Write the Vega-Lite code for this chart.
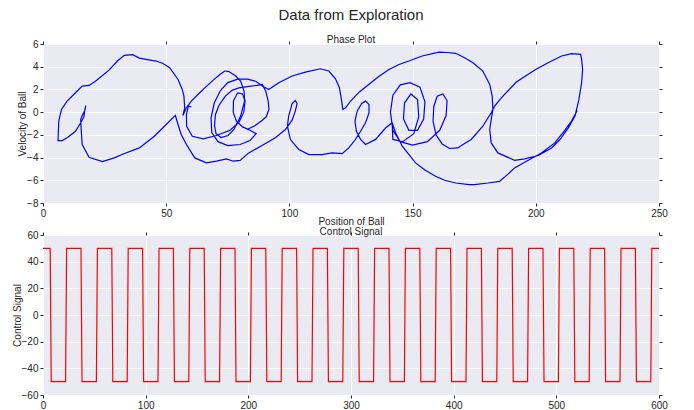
{
"$schema":"https://vega.github.io/schema/vega-lite/v6.json",
"padding":{"left":12,"top":8,"right":10,"bottom":5},
"title":{"text":"Data from Exploration","fontSize":15,"fontWeight":"normal","font":"Liberation Sans","color":"#262626","offset":12,"anchor":"middle"},
"spacing":32,
"bounds":"flush",
"config":{
 "view":{"fill":"#EAEAF2","stroke":null},
 "axis":{"domain":false,"grid":true,"gridColor":"#ffffff","gridWidth":1,"tickColor":"#262626","tickSize":3,"labelFont":"Liberation Sans","labelFontSize":10,"labelColor":"#262626","labelPadding":2,"labelFlush":false,"titleFont":"Liberation Sans","titleFontSize":10,"titleFontWeight":"normal","titleColor":"#262626"},
 "title":{"font":"Liberation Sans","fontSize":10,"fontWeight":"normal","color":"#262626","frame":"group"}
},
"vconcat":[
{
 "title":{"text":"Phase Plot","offset":-6},
 "width":616,"height":159,
 "data":{"values":[
{"s":"C","i":0,"x":73.8,"v":3.62},{"s":"C","i":1,"x":75.5,"v":3.57},{"s":"C","i":2,"x":78.2,"v":3.18},{"s":"C","i":3,"x":80.2,"v":2.74},{"s":"C","i":4,"x":81.6,"v":1.85},{"s":"C","i":5,"x":81.8,"v":0.97},{"s":"C","i":6,"x":80.2,"v":-0.35},{"s":"C","i":7,"x":77.5,"v":-1.53},{"s":"C","i":8,"x":75.1,"v":-2.06},{"s":"C","i":9,"x":72.2,"v":-2.23},{"s":"C","i":10,"x":70.2,"v":-1.88},{"s":"C","i":11,"x":69.6,"v":-1.17},{"s":"C","i":12,"x":70.0,"v":-0.2},{"s":"C","i":13,"x":71.4,"v":0.59},{"s":"C","i":14,"x":73.9,"v":1.39},{"s":"C","i":15,"x":76.7,"v":1.92},{"s":"C","i":16,"x":79.5,"v":2.14},{"s":"C","i":17,"x":83.6,"v":2.27},{"s":"C","i":18,"x":86.9,"v":2.36},{"s":"C","i":19,"x":89.0,"v":2.44},{"s":"C","i":20,"x":90.4,"v":1.85},{"s":"C","i":21,"x":91.4,"v":0.97},{"s":"C","i":22,"x":91.7,"v":0.24},{"s":"C","i":23,"x":90.6,"v":-0.41},{"s":"C","i":24,"x":89.0,"v":-0.71},{"s":"C","i":25,"x":86,"v":-1.2},{"s":"C","i":26,"x":83,"v":-1.5},
{"s":"A","i":0,"x":73.8,"v":3.62},{"s":"A","i":1,"x":71.8,"v":3.32},{"s":"A","i":2,"x":69.1,"v":2.82},{"s":"A","i":3,"x":66,"v":2.2},{"s":"A","i":4,"x":63.6,"v":1.71},{"s":"A","i":5,"x":60.2,"v":0.97},{"s":"A","i":6,"x":58.2,"v":0.38},{"s":"A","i":7,"x":56.8,"v":-0.29},{"s":"A","i":8,"x":57.5,"v":0.38},{"s":"A","i":9,"x":57.2,"v":1.41},{"s":"A","i":10,"x":56.5,"v":2.0},{"s":"A","i":11,"x":54.8,"v":2.88},{"s":"A","i":12,"x":51.4,"v":3.91},{"s":"A","i":13,"x":48.5,"v":4.3},{"s":"A","i":14,"x":45.9,"v":4.5},{"s":"A","i":15,"x":41.8,"v":4.65},{"s":"A","i":16,"x":39.1,"v":4.76},{"s":"A","i":17,"x":36.4,"v":5.06},{"s":"A","i":18,"x":33.0,"v":5.0},{"s":"A","i":19,"x":30.2,"v":4.5},{"s":"A","i":20,"x":26.8,"v":3.7},{"s":"A","i":21,"x":21.4,"v":2.74},{"s":"A","i":22,"x":18.7,"v":2.35},{"s":"A","i":23,"x":15.9,"v":2.29},{"s":"A","i":24,"x":13.2,"v":1.71},{"s":"A","i":25,"x":9.8,"v":0.97},{"s":"A","i":26,"x":7.5,"v":0.24},{"s":"A","i":27,"x":6.4,"v":-0.79},{"s":"A","i":28,"x":6.1,"v":-2.5},{"s":"A","i":29,"x":7.8,"v":-2.5},{"s":"A","i":30,"x":9.8,"v":-2.26},{"s":"A","i":31,"x":13.2,"v":-1.68},{"s":"A","i":32,"x":15.3,"v":-0.94},{"s":"A","i":33,"x":16.6,"v":-0.41},{"s":"A","i":34,"x":17.0,"v":0.24},{"s":"A","i":35,"x":17.4,"v":0.58},{"s":"A","i":36,"x":16.9,"v":0.09},{"s":"A","i":37,"x":15.9,"v":-0.29},{"s":"A","i":38,"x":15.3,"v":-0.65},{"s":"A","i":39,"x":15.5,"v":-1.53},{"s":"A","i":40,"x":15.9,"v":-2.85},{"s":"A","i":41,"x":18.7,"v":-3.97},{"s":"A","i":42,"x":24.1,"v":-4.35},{"s":"A","i":43,"x":28.9,"v":-4.03},{"s":"A","i":44,"x":32.3,"v":-3.71},{"s":"A","i":45,"x":39.1,"v":-3.15},{"s":"A","i":46,"x":45.2,"v":-2.12},{"s":"A","i":47,"x":50.0,"v":-1.09},{"s":"A","i":48,"x":53.7,"v":-0.29},{"s":"A","i":49,"x":54.8,"v":-1.09},{"s":"A","i":50,"x":56.1,"v":-1.97},{"s":"A","i":51,"x":58.2,"v":-2.85},{"s":"A","i":52,"x":61.6,"v":-4.03},{"s":"A","i":53,"x":66.3,"v":-4.47},{"s":"A","i":54,"x":70.4,"v":-4.32},{"s":"A","i":55,"x":74.5,"v":-4.12},{"s":"A","i":56,"x":77.2,"v":-4.32},{"s":"A","i":57,"x":80,"v":-4.25},{"s":"A","i":58,"x":83.5,"v":-3.59},{"s":"A","i":59,"x":88.9,"v":-2.94},{"s":"A","i":60,"x":94.3,"v":-2.26},{"s":"A","i":61,"x":98.4,"v":-1.53},{"s":"A","i":62,"x":101.1,"v":-0.71},{"s":"A","i":63,"x":102.4,"v":0.09},{"s":"A","i":64,"x":103.1,"v":0.76},{"s":"A","i":65,"x":102.4,"v":1.03},{"s":"A","i":66,"x":101.1,"v":0.76},{"s":"A","i":67,"x":99.7,"v":-0.35},{"s":"A","i":68,"x":99.2,"v":-1.24},{"s":"A","i":69,"x":100.4,"v":-2.41},{"s":"A","i":70,"x":103.8,"v":-3.29},{"s":"A","i":71,"x":107.9,"v":-3.74},{"s":"A","i":72,"x":113.3,"v":-3.74},{"s":"A","i":73,"x":117.3,"v":-3.59},{"s":"A","i":74,"x":121.4,"v":-3.65},{"s":"A","i":75,"x":124.1,"v":-3.15},{"s":"A","i":76,"x":126.8,"v":-2.41},{"s":"A","i":77,"x":128.9,"v":-1.68},{"s":"A","i":78,"x":130.9,"v":-0.94},{"s":"A","i":79,"x":132.3,"v":-0.06},{"s":"A","i":80,"x":132.3,"v":0.68},{"s":"A","i":81,"x":130.9,"v":0.97},{"s":"A","i":82,"x":129.3,"v":0.76},{"s":"A","i":83,"x":127.5,"v":0.09},{"s":"A","i":84,"x":126.6,"v":-0.79},{"s":"A","i":85,"x":127.2,"v":-1.68},{"s":"A","i":86,"x":128.9,"v":-2.41},{"s":"A","i":87,"x":130.9,"v":-2.85},{"s":"A","i":88,"x":135,"v":-2.4},{"s":"A","i":89,"x":139,"v":-1.4},{"s":"A","i":90,"x":141.7,"v":-0.94},
{"s":"B","i":0,"x":60.2,"v":0.47},{"s":"B","i":1,"x":59.0,"v":0.53},{"s":"B","i":2,"x":58.2,"v":-0.21},{"s":"B","i":3,"x":58.3,"v":-1.24},{"s":"B","i":4,"x":60.6,"v":-2.12},{"s":"B","i":5,"x":65.0,"v":-2.35},{"s":"B","i":6,"x":70.4,"v":-2.06},{"s":"B","i":7,"x":75.9,"v":-1.59},{"s":"B","i":8,"x":79.5,"v":-0.9},{"s":"B","i":9,"x":81.5,"v":0},{"s":"B","i":10,"x":82,"v":1.0},{"s":"B","i":11,"x":81,"v":1.6},{"s":"B","i":12,"x":79,"v":1.7},{"s":"B","i":13,"x":77.3,"v":1.0},{"s":"B","i":14,"x":77.2,"v":0},{"s":"B","i":15,"x":78.5,"v":-0.8},{"s":"B","i":16,"x":81,"v":-1.3},{"s":"B","i":17,"x":84,"v":-1.6},{"s":"B","i":18,"x":86.5,"v":-1.9},{"s":"B","i":19,"x":84,"v":-2.5},{"s":"B","i":20,"x":80,"v":-2.85},{"s":"B","i":21,"x":75,"v":-2.95},{"s":"B","i":22,"x":71,"v":-2.6},{"s":"B","i":23,"x":68.5,"v":-1.8},{"s":"B","i":24,"x":68.2,"v":-0.5},{"s":"B","i":25,"x":69.5,"v":0.8},{"s":"B","i":26,"x":72,"v":1.9},{"s":"B","i":27,"x":75,"v":2.6},{"s":"B","i":28,"x":79,"v":2.9},{"s":"B","i":29,"x":83,"v":2.9},{"s":"B","i":30,"x":86.5,"v":2.7},{"s":"B","i":31,"x":89,"v":2.3},{"s":"B","i":32,"x":91.6,"v":2.0},{"s":"B","i":37,"x":95.7,"v":2.59},{"s":"B","i":38,"x":101.1,"v":3.18},{"s":"B","i":39,"x":106.5,"v":3.53},{"s":"B","i":40,"x":112.6,"v":3.82},{"s":"B","i":41,"x":116.0,"v":3.62},{"s":"B","i":42,"x":118.7,"v":2.94},{"s":"B","i":43,"x":120.3,"v":2.15},{"s":"B","i":44,"x":121.1,"v":1.12},{"s":"B","i":45,"x":121.7,"v":0.24},{"s":"B","i":46,"x":122.8,"v":0.38},{"s":"B","i":47,"x":124.8,"v":0.97},{"s":"B","i":48,"x":128.5,"v":1.8},{"s":"B","i":49,"x":132.2,"v":2.44},{"s":"B","i":50,"x":136,"v":3.1},{"s":"B","i":51,"x":140.4,"v":3.76},{"s":"B","i":52,"x":144.5,"v":4.2},{"s":"B","i":53,"x":148.5,"v":4.5},{"s":"B","i":54,"x":153.9,"v":4.94},{"s":"B","i":55,"x":160.7,"v":5.29},{"s":"B","i":56,"x":164,"v":5.25},{"s":"B","i":57,"x":167.5,"v":5.18},{"s":"B","i":58,"x":171.1,"v":4.79},{"s":"B","i":59,"x":174.5,"v":4.35},{"s":"B","i":60,"x":178.5,"v":3.62},{"s":"B","i":61,"x":181.3,"v":2.44},{"s":"B","i":62,"x":182.3,"v":1.41},{"s":"B","i":63,"x":182.6,"v":0.24},{"s":"B","i":64,"x":181.9,"v":-0.65},{"s":"B","i":65,"x":181.3,"v":-1.53},{"s":"B","i":66,"x":181.9,"v":-2.71},{"s":"B","i":67,"x":184.6,"v":-3.59},{"s":"B","i":68,"x":191.4,"v":-4.24},{"s":"B","i":69,"x":195.5,"v":-4.12},{"s":"B","i":70,"x":201.0,"v":-3.82},{"s":"B","i":71,"x":206.4,"v":-3.15},{"s":"B","i":72,"x":209.8,"v":-2.41},{"s":"B","i":73,"x":213.2,"v":-1.38},{"s":"B","i":74,"x":215.9,"v":-0.35},{"s":"B","i":75,"x":217.5,"v":1.12},{"s":"B","i":76,"x":218.6,"v":2.59},{"s":"B","i":77,"x":219.0,"v":3.76},{"s":"B","i":78,"x":218.6,"v":4.65},{"s":"B","i":79,"x":218.2,"v":5.09},{"s":"B","i":80,"x":214.5,"v":5.15},{"s":"B","i":81,"x":210.5,"v":4.94},{"s":"B","i":82,"x":205.0,"v":4.35},{"s":"B","i":83,"x":199.6,"v":3.71},{"s":"B","i":84,"x":192.1,"v":2.65},{"s":"B","i":85,"x":186.0,"v":1.26},{"s":"B","i":86,"x":183.3,"v":0.53},{"s":"B","i":87,"x":181.9,"v":-0.06},{"s":"B","i":88,"x":178.5,"v":-1.24},{"s":"B","i":89,"x":173.8,"v":-2.41},{"s":"B","i":90,"x":171.1,"v":-2.76},{"s":"B","i":91,"x":168.3,"v":-3.15},{"s":"B","i":92,"x":165,"v":-3.2},{"s":"B","i":93,"x":162,"v":-2.8},{"s":"B","i":94,"x":159.5,"v":-2.0},{"s":"B","i":95,"x":158.3,"v":-0.8},{"s":"B","i":96,"x":158.6,"v":0.5},{"s":"B","i":97,"x":160,"v":1.4},{"s":"B","i":98,"x":162.3,"v":1.6},{"s":"B","i":99,"x":164,"v":1.0},{"s":"B","i":100,"x":163.6,"v":-0.3},{"s":"B","i":101,"x":161,"v":-1.6},{"s":"B","i":102,"x":156,"v":-2.6},{"s":"B","i":103,"x":150,"v":-2.9},{"s":"B","i":104,"x":145,"v":-2.6},{"s":"B","i":105,"x":142,"v":-1.6},{"s":"B","i":106,"x":141,"v":0},{"s":"B","i":107,"x":142,"v":1.5},{"s":"B","i":108,"x":145,"v":2.4},{"s":"B","i":109,"x":149,"v":2.6},{"s":"B","i":110,"x":153,"v":2.2},{"s":"B","i":111,"x":155,"v":0.9},{"s":"B","i":112,"x":154.5,"v":-0.6},{"s":"B","i":113,"x":152,"v":-1.6},{"s":"B","i":114,"x":148.5,"v":-1.6},{"s":"B","i":115,"x":146.3,"v":-0.6},{"s":"B","i":116,"x":146.7,"v":0.8},{"s":"B","i":117,"x":149.3,"v":1.6},{"s":"B","i":118,"x":152,"v":1.1},{"s":"B","i":119,"x":152.5,"v":-0.4},{"s":"B","i":120,"x":150.5,"v":-1.9},{"s":"B","i":121,"x":146,"v":-2.6},{"s":"B","i":122,"x":142,"v":-2.4},{"s":"B","i":123,"x":141.7,"v":-0.94},{"s":"B","i":124,"x":143.1,"v":-1.82},{"s":"B","i":125,"x":145.8,"v":-3.0},{"s":"B","i":126,"x":151.2,"v":-4.47},{"s":"B","i":127,"x":155,"v":-5.1},{"s":"B","i":128,"x":159.3,"v":-5.65},{"s":"B","i":129,"x":163,"v":-6.0},{"s":"B","i":130,"x":167.5,"v":-6.24},{"s":"B","i":131,"x":172.9,"v":-6.38},{"s":"B","i":132,"x":175.1,"v":-6.38},{"s":"B","i":133,"x":180.6,"v":-6.24},{"s":"B","i":134,"x":185.3,"v":-6.09},{"s":"B","i":135,"x":188.5,"v":-5.5},{"s":"B","i":136,"x":191.4,"v":-4.91},{"s":"B","i":137,"x":195.5,"v":-4.41},{"s":"B","i":138,"x":202.3,"v":-3.59},{"s":"B","i":139,"x":207.7,"v":-2.71},{"s":"B","i":140,"x":211.5,"v":-1.68},{"s":"B","i":141,"x":214.5,"v":-0.79},{"s":"B","i":142,"x":216.8,"v":0.15}
 ]},
 "layer":[
  {
   "mark":{"type":"line","color":"#0000ff","strokeWidth":1.2,"clip":true},
   "encoding":{
    "x":{"field":"x","type":"quantitative","scale":{"domain":[0,250],"nice":false,"zero":false},"axis":{"values":[0,50,100,150,200,250],"title":"Position of Ball","titlePadding":-2}},
    "y":{"field":"v","type":"quantitative","scale":{"domain":[-8,6],"nice":false,"zero":false},"axis":{"values":[-8,-6,-4,-2,0,2,4,6],"title":"Velocity of Ball","titlePadding":-1}},
    "detail":{"field":"s"},
    "order":{"field":"i","type":"quantitative"}
   }
  },
  {
   "mark":{"type":"line","opacity":0},
   "encoding":{
    "x":{"field":"x","type":"quantitative","axis":{"orient":"top","values":[0,50,100,150,200,250],"labels":false,"grid":false,"title":null}},
    "y":{"field":"v","type":"quantitative","axis":{"orient":"right","values":[-8,-6,-4,-2,0,2,4,6],"labels":false,"grid":false,"title":null}},
    "detail":{"field":"s"},
    "order":{"field":"i","type":"quantitative"}
   }
  }
 ],
 "resolve":{"axis":{"x":"independent","y":"independent"}}
},
{
 "title":{"text":"Control Signal","offset":-7},
 "width":616,"height":160,
 "data":{"values":[
{"t":0,"u":50},{"t":7,"u":50},{"t":8,"u":-50},{"t":22,"u":-50},
{"t":23,"u":50},{"t":37,"u":50},{"t":38,"u":-50},{"t":52,"u":-50},
{"t":53,"u":50},{"t":67,"u":50},{"t":68,"u":-50},{"t":82,"u":-50},
{"t":83,"u":50},{"t":97,"u":50},{"t":98,"u":-50},{"t":112,"u":-50},
{"t":113,"u":50},{"t":127,"u":50},{"t":128,"u":-50},{"t":142,"u":-50},
{"t":143,"u":50},{"t":157,"u":50},{"t":158,"u":-50},{"t":172,"u":-50},
{"t":173,"u":50},{"t":187,"u":50},{"t":188,"u":-50},{"t":202,"u":-50},
{"t":203,"u":50},{"t":217,"u":50},{"t":218,"u":-50},{"t":232,"u":-50},
{"t":233,"u":50},{"t":247,"u":50},{"t":248,"u":-50},{"t":262,"u":-50},
{"t":263,"u":50},{"t":277,"u":50},{"t":278,"u":-50},{"t":292,"u":-50},
{"t":293,"u":50},{"t":307,"u":50},{"t":308,"u":-50},{"t":322,"u":-50},
{"t":323,"u":50},{"t":337,"u":50},{"t":338,"u":-50},{"t":352,"u":-50},
{"t":353,"u":50},{"t":367,"u":50},{"t":368,"u":-50},{"t":382,"u":-50},
{"t":383,"u":50},{"t":397,"u":50},{"t":398,"u":-50},{"t":412,"u":-50},
{"t":413,"u":50},{"t":427,"u":50},{"t":428,"u":-50},{"t":442,"u":-50},
{"t":443,"u":50},{"t":457,"u":50},{"t":458,"u":-50},{"t":472,"u":-50},
{"t":473,"u":50},{"t":487,"u":50},{"t":488,"u":-50},{"t":502,"u":-50},
{"t":503,"u":50},{"t":517,"u":50},{"t":518,"u":-50},{"t":532,"u":-50},
{"t":533,"u":50},{"t":547,"u":50},{"t":548,"u":-50},{"t":562,"u":-50},
{"t":563,"u":50},{"t":577,"u":50},{"t":578,"u":-50},{"t":592,"u":-50},
{"t":593,"u":50},{"t":600,"u":50}
 ]},
 "layer":[
  {
   "mark":{"type":"line","color":"#ff0000","strokeWidth":1.2,"clip":true},
   "encoding":{
    "x":{"field":"t","type":"quantitative","scale":{"domain":[0,600],"nice":false,"zero":false},"axis":{"values":[0,100,200,300,400,500,600],"title":null}},
    "y":{"field":"u","type":"quantitative","scale":{"domain":[-60,60],"nice":false},"axis":{"values":[-60,-40,-20,0,20,40,60],"title":"Control Signal","titlePadding":-1}},
    "order":{"field":"t","type":"quantitative"}
   }
  },
  {
   "mark":{"type":"line","opacity":0},
   "encoding":{
    "x":{"field":"t","type":"quantitative","axis":{"orient":"top","values":[0,100,200,300,400,500,600],"labels":false,"grid":false,"title":null}},
    "y":{"field":"u","type":"quantitative","axis":{"orient":"right","values":[-60,-40,-20,0,20,40,60],"labels":false,"grid":false,"title":null}},
    "order":{"field":"t","type":"quantitative"}
   }
  }
 ],
 "resolve":{"axis":{"x":"independent","y":"independent"}}
}
]
}
